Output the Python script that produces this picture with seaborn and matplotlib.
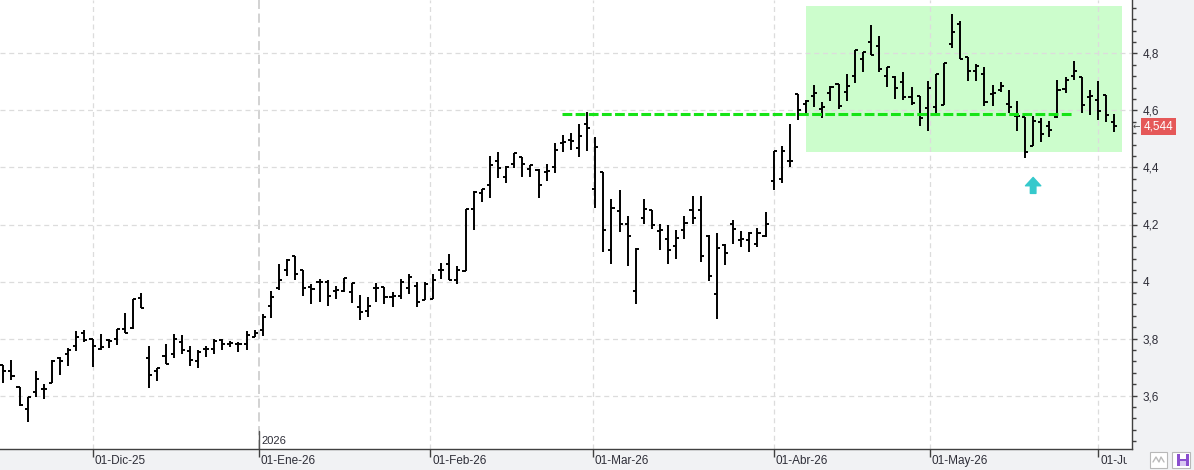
import numpy as np
import pandas as pd
import matplotlib
matplotlib.use("Agg")
import matplotlib.pyplot as plt
import matplotlib.transforms as mtransforms
from matplotlib.patches import Rectangle
from matplotlib.ticker import MultipleLocator, FuncFormatter
import seaborn as sns

# ---------------- data ----------------
start_date = "2025-11-14"
end_date = "2026-06-03"
holidays = ["2025-12-25", "2025-12-26", "2026-01-01", "2026-04-03", "2026-04-06", "2026-05-01"]

open_ = [3.706, 3.688, 3.632, 3.554, 3.614, 3.624, 3.646, 3.733, 3.745, 3.773,
         3.818, 3.798, 3.765, 3.796, 3.800, 3.832, 3.838, 3.941, 3.733, 3.686,
         3.740, 3.747, 3.789, 3.755, 3.722, 3.762, 3.762, 3.794, 3.782, 3.782,
         3.782, 3.804, 3.829, 3.914, 3.977, 4.041, 4.088, 4.042, 3.980, 3.998,
         3.998, 3.968, 3.968, 3.963, 3.912, 3.898, 3.978, 3.982, 3.947, 3.951,
         3.978, 3.986, 3.936, 3.939, 4.039, 4.062, 4.006, 4.036, 4.256, 4.311,
         4.338, 4.423, 4.367, 4.412, 4.436, 4.393, 4.391, 4.385, 4.400, 4.485,
         4.497, 4.467, 4.553, 4.323, 4.383, 4.111, 4.247, 4.203, 3.968, 4.224,
         4.250, 4.176, 4.150, 4.123, 4.179, 4.250, 4.250, 4.158, 3.957, 4.127,
         4.201, 4.144, 4.144, 4.133, 4.158, 4.351, 4.360, 4.423, 4.657, 4.622,
         4.650, 4.604, 4.662, 4.692, 4.665, 4.720, 4.779, 4.841, 4.827, 4.720,
         4.716, 4.701, 4.646, 4.650, 4.607, 4.611, 4.619, 4.833, 4.903, 4.788,
         4.738, 4.726, 4.657, 4.671, 4.622, 4.580, 4.578, 4.476, 4.558, 4.545,
         4.578, 4.674, 4.720, 4.716, 4.646, 4.636, 4.654, 4.560]
high = [3.706, 3.724, 3.632, 3.596, 3.686, 3.641, 3.726, 3.735, 3.768, 3.826,
        3.829, 3.798, 3.815, 3.798, 3.833, 3.891, 3.939, 3.959, 3.773, 3.698,
        3.780, 3.815, 3.813, 3.773, 3.759, 3.775, 3.800, 3.798, 3.791, 3.788,
        3.826, 3.829, 3.888, 3.967, 4.062, 4.080, 4.091, 4.042, 3.992, 4.009,
        4.006, 3.986, 4.012, 3.994, 3.953, 3.945, 3.994, 3.982, 3.965, 4.009,
        4.027, 3.998, 3.998, 4.027, 4.065, 4.097, 4.053, 4.256, 4.318, 4.326,
        4.440, 4.454, 4.405, 4.452, 4.436, 4.409, 4.393, 4.412, 4.485, 4.514,
        4.520, 4.553, 4.596, 4.506, 4.383, 4.291, 4.320, 4.229, 4.118, 4.291,
        4.250, 4.201, 4.197, 4.179, 4.229, 4.299, 4.299, 4.162, 4.170, 4.130,
        4.215, 4.177, 4.174, 4.188, 4.244, 4.457, 4.475, 4.552, 4.657, 4.636,
        4.689, 4.630, 4.685, 4.692, 4.727, 4.812, 4.806, 4.899, 4.862, 4.753,
        4.720, 4.736, 4.681, 4.650, 4.704, 4.727, 4.767, 4.938, 4.915, 4.788,
        4.761, 4.751, 4.689, 4.698, 4.671, 4.633, 4.578, 4.581, 4.575, 4.564,
        4.706, 4.716, 4.773, 4.716, 4.671, 4.703, 4.654, 4.589]
low = [3.644, 3.655, 3.564, 3.506, 3.594, 3.588, 3.646, 3.672, 3.704, 3.756,
       3.787, 3.700, 3.759, 3.768, 3.779, 3.818, 3.835, 3.906, 3.626, 3.651,
       3.712, 3.733, 3.746, 3.704, 3.696, 3.735, 3.747, 3.761, 3.771, 3.753,
       3.759, 3.804, 3.809, 3.873, 3.971, 4.021, 4.006, 3.950, 3.922, 3.927,
       3.913, 3.939, 3.965, 3.924, 3.865, 3.875, 3.930, 3.922, 3.912, 3.939,
       3.957, 3.912, 3.936, 3.939, 4.009, 4.004, 3.992, 4.036, 4.179, 4.279,
       4.293, 4.364, 4.346, 4.397, 4.367, 4.367, 4.293, 4.353, 4.379, 4.453,
       4.461, 4.436, 4.459, 4.259, 4.103, 4.062, 4.174, 4.054, 3.921, 4.201,
       4.184, 4.109, 4.062, 4.080, 4.150, 4.203, 4.068, 4.001, 3.869, 4.059,
       4.133, 4.121, 4.103, 4.121, 4.156, 4.322, 4.346, 4.403, 4.568, 4.589,
       4.613, 4.572, 4.634, 4.604, 4.634, 4.695, 4.736, 4.794, 4.733, 4.683,
       4.639, 4.636, 4.619, 4.546, 4.529, 4.592, 4.619, 4.820, 4.779, 4.704,
       4.704, 4.615, 4.615, 4.665, 4.592, 4.529, 4.432, 4.476, 4.490, 4.508,
       4.575, 4.660, 4.706, 4.592, 4.584, 4.568, 4.560, 4.525]
close = [3.688, 3.669, 3.566, 3.594, 3.659, 3.624, 3.722, 3.722, 3.759, 3.805,
         3.796, 3.775, 3.771, 3.791, 3.833, 3.818, 3.939, 3.908, 3.672, 3.698,
         3.712, 3.798, 3.759, 3.726, 3.754, 3.762, 3.791, 3.780, 3.785, 3.782,
         3.812, 3.821, 3.874, 3.947, 4.006, 4.076, 4.027, 3.978, 3.974, 3.998,
         3.950, 3.972, 4.012, 3.994, 3.895, 3.913, 3.978, 3.947, 3.951, 3.998,
         4.015, 3.927, 3.992, 4.006, 4.041, 4.004, 4.039, 4.256, 4.315, 4.326,
         4.409, 4.397, 4.403, 4.450, 4.412, 4.409, 4.340, 4.389, 4.461, 4.488,
         4.491, 4.511, 4.538, 4.473, 4.180, 4.259, 4.203, 4.158, 4.113, 4.256,
         4.199, 4.179, 4.109, 4.154, 4.205, 4.224, 4.088, 4.020, 4.118, 4.101,
         4.185, 4.150, 4.170, 4.170, 4.203, 4.457, 4.458, 4.423, 4.601, 4.634,
         4.660, 4.611, 4.681, 4.615, 4.685, 4.812, 4.804, 4.794, 4.744, 4.753,
         4.677, 4.646, 4.625, 4.572, 4.677, 4.727, 4.765, 4.874, 4.779, 4.739,
         4.757, 4.628, 4.660, 4.685, 4.611, 4.580, 4.453, 4.563, 4.516, 4.531,
         4.671, 4.706, 4.738, 4.619, 4.651, 4.598, 4.585, 4.544]

month_starts = ["2025-12-01", "2026-01-01", "2026-02-01", "2026-03-01",
                "2026-04-01", "2026-05-01", "2026-06-01"]
month_labels = ["01-Dic-25", "01-Ene-26", "01-Feb-26", "01-Mar-26",
                "01-Abr-26", "01-May-26", "01-Jun-26"]
year_label = "2026"
last_price = 4.544
price_label = "4,544"

# annotations (in bar-index / price units)
resistance = 4.587
resistance_span = (68.85, 131.9)
zone_x = (98.95, 137.95)
zone_y = (4.453, 4.965)
arrow_x = 127.0
arrow_y = (4.309, 4.365)

# ---------------- build frame ----------------
dates = pd.bdate_range(start_date, end_date)
dates = dates[~dates.isin(pd.to_datetime(holidays))]
df = pd.DataFrame({"date": dates, "open": open_, "high": high, "low": low, "close": close})
df["x"] = np.arange(len(df))

ords = np.array([d.toordinal() for d in df["date"]])
tick_pos = np.interp([pd.Timestamp(m).toordinal() for m in month_starts], ords, df["x"].values)

# ---------------- style ----------------
sns.set_theme(style="white")
plt.rcParams["font.family"] = ["Liberation Sans", "DejaVu Sans"]

W, H = 1194, 470
fig = plt.figure(figsize=(W / 100, H / 100), dpi=100, facecolor="#f1f2f4")
ax_right_px = 1131.5
ax_bottom_px = 449
ax = fig.add_axes([0, (H - ax_bottom_px) / H, ax_right_px / W, ax_bottom_px / H])
ax.set_facecolor("white")

ax.set_xlim(-0.41, 139.13)
ax.set_ylim(3.413, 4.987)

# green zone
ax.add_patch(Rectangle((zone_x[0], zone_y[0]), zone_x[1] - zone_x[0], zone_y[1] - zone_y[0],
                       facecolor="#ccfdcc", edgecolor="none", zorder=0.2))

# grid
ax.yaxis.set_major_locator(MultipleLocator(0.2))
ax.yaxis.set_minor_locator(MultipleLocator(0.04))
ax.set_axisbelow(True)
ax.yaxis.grid(True, which="major", color="#dcdcdc", linestyle=(0, (4, 3)), linewidth=0.9, zorder=0.5)
ax.xaxis.grid(False)
for i, tp in enumerate(tick_pos):
    if month_labels[i].startswith("01-Ene"):
        ax.axvline(tp, color="#c6c6c6", linestyle=(0, (6, 3)), linewidth=1.1, zorder=0.5)
    else:
        ax.axvline(tp, color="#dcdcdc", linestyle=(0, (4, 3)), linewidth=0.9, zorder=0.5)

# OHLC bars
tw = 0.38
ax.vlines(df["x"], df["low"], df["high"], color="black", linewidth=1.4, zorder=3)
ax.hlines(df["open"], df["x"] - tw, df["x"], color="black", linewidth=1.4, zorder=3)
ax.hlines(df["close"], df["x"], df["x"] + tw, color="black", linewidth=1.4, zorder=3)

# resistance line
sns.lineplot(x=list(resistance_span), y=[resistance, resistance], ax=ax, color="#17e317",
             linewidth=2.2, linestyle=(0, (3.2, 1.1)), zorder=4)

# cyan arrow
ax.annotate("", xy=(arrow_x, arrow_y[1]), xytext=(arrow_x, arrow_y[0]),
            arrowprops=dict(arrowstyle="simple,head_length=0.6,head_width=1.1,tail_width=0.4",
                            color="#35c9cc", shrinkA=0, shrinkB=0, mutation_scale=10), zorder=5)

# spines
for s in ["top", "left"]:
    ax.spines[s].set_visible(False)
for s in ["right", "bottom"]:
    ax.spines[s].set_visible(True)
    ax.spines[s].set_color("#404040")
    ax.spines[s].set_linewidth(1.0)

# y axis on the right
ax.yaxis.tick_right()
ax.yaxis.set_major_formatter(FuncFormatter(
    lambda v, p: (f"{v:.1f}".rstrip("0").rstrip(".")).replace(".", ",")))
ax.tick_params(axis="y", which="major", length=3.8, width=1.0, color="#404040",
               pad=4, labelsize=8.5, labelcolor="#2e2e38", right=True, left=False)
ax.tick_params(axis="y", which="minor", length=2.6, width=1.0, color="#404040",
               right=True, left=False)

# x ticks
ax.set_xticks(tick_pos)
ax.set_xticklabels(month_labels, ha="left")
ax.tick_params(axis="x", which="major", length=6, width=1.0, color="#404040",
               pad=-2.0, labelsize=8.5, labelcolor="#2e2e38", bottom=True)
offset = mtransforms.ScaledTranslation(2 / 100, 0, fig.dpi_scale_trans)
clipbox = mtransforms.TransformedBbox(mtransforms.Bbox([[0, 0], [1127 / W, 1]]), fig.transFigure)
for lbl in ax.get_xticklabels():
    lbl.set_transform(lbl.get_transform() + offset)
    lbl.set_clip_box(clipbox)
    lbl.set_clip_on(True)

# year marker
jan_pos = tick_pos[1]
blend = mtransforms.blended_transform_factory(ax.transData, ax.transAxes)
ax.plot([jan_pos, jan_pos], [0, 18 / ax_bottom_px], transform=blend, color="#555555",
        linewidth=1.0, zorder=2, clip_on=False)
ax.text(jan_pos, 0, year_label, transform=blend + mtransforms.ScaledTranslation(2.5 / 100, 3 / 100, fig.dpi_scale_trans),
        ha="left", va="bottom", fontsize=8, color="#2e2e38")

# last price tag
blend_y = mtransforms.blended_transform_factory(ax.transAxes, ax.transData)
ax.text(1.0, last_price, price_label,
        transform=blend_y + mtransforms.ScaledTranslation(12.5 / 100, 0, fig.dpi_scale_trans),
        ha="left", va="center", fontsize=8.5, color="white", clip_on=False, zorder=6,
        bbox=dict(boxstyle="square,pad=0.22", facecolor="#e55858", edgecolor="none"))
ax.text(1.0, last_price, "\u2190",
        transform=blend_y + mtransforms.ScaledTranslation(1.5 / 100, 0, fig.dpi_scale_trans),
        ha="left", va="center", fontsize=6.5, color="#444444", clip_on=False,
        family=["DejaVu Sans"])

# bottom-right icons
def px_rect(x0, y0, w, h, **kw):
    fig.add_artist(Rectangle((x0 / W, 1 - (y0 + h) / H), w / W, h / H, transform=fig.transFigure, **kw))

px_rect(1150, 452, 17, 16, facecolor="white", edgecolor="#b8b8b8", linewidth=0.8)
fig.add_artist(plt.Line2D(np.array([1153, 1156, 1159, 1161, 1164]) / W,
                          1 - np.array([462, 457, 462, 457, 462]) / H,
                          transform=fig.transFigure, color="#bbbbbb", linewidth=1.0))
px_rect(1172, 452, 18, 16, facecolor="white", edgecolor="#b8b8b8", linewidth=0.8)
px_rect(1176.5, 454, 12.5, 12, facecolor="#8b4fcf", edgecolor="none")
px_rect(1179.5, 454, 6.5, 4.5, facecolor="white", edgecolor="none")
px_rect(1179.5, 461, 6.5, 5, facecolor="#d9c8f2", edgecolor="none")

fig.savefig("out.png", dpi=100, facecolor=fig.get_facecolor())
